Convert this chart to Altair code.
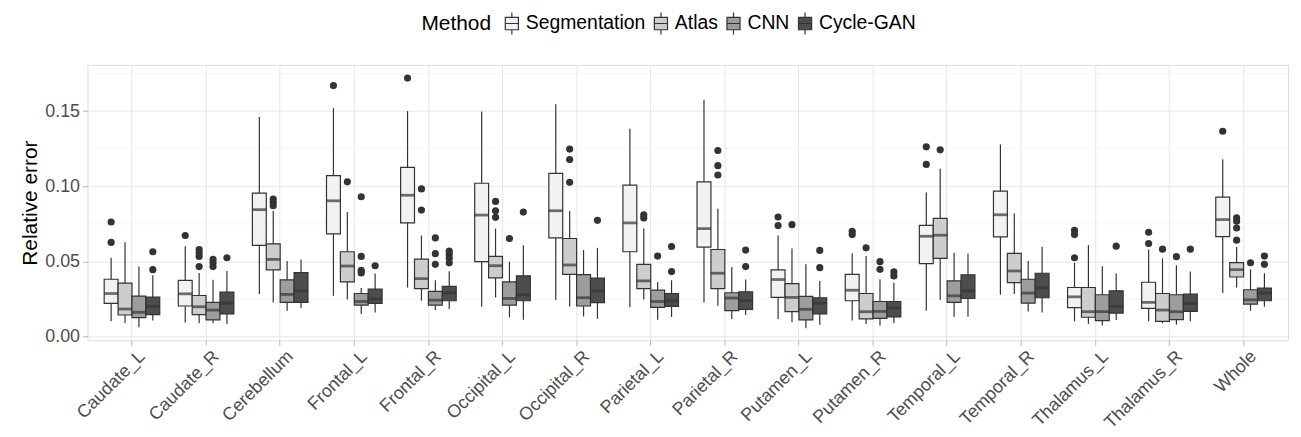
import altair as alt
import pandas as pd

REGIONS = ["Caudate_L", "Caudate_R", "Cerebellum", "Frontal_L", "Frontal_R",
           "Occipital_L", "Occipital_R", "Parietal_L", "Parietal_R", "Putamen_L",
           "Putamen_R", "Temporal_L", "Temporal_R", "Thalamus_L", "Thalamus_R", "Whole"]
METHODS = ["Segmentation", "Atlas", "CNN", "Cycle-GAN"]
FILLS = ["#F2F2F2", "#CDCDCD", "#9D9D9D", "#4D4D4D"]

# (lower whisker, q1, median, q3, upper whisker) for each region, in REGIONS order
SEGMENTATION = [
    (0.0101, 0.0220, 0.0286, 0.0381, 0.0524),
    (0.0093, 0.0203, 0.0284, 0.0374, 0.0601),
    (0.0282, 0.0606, 0.0844, 0.0954, 0.1460),
    (0.0271, 0.0683, 0.0903, 0.1070, 0.1520),
    (0.0326, 0.0756, 0.0940, 0.1126, 0.1500),
    (0.0198, 0.0498, 0.0808, 0.1020, 0.1498),
    (0.0242, 0.0656, 0.0837, 0.1086, 0.1546),
    (0.0194, 0.0564, 0.0756, 0.1007, 0.1383),
    (0.0227, 0.0595, 0.0718, 0.1029, 0.1575),
    (0.0117, 0.0260, 0.0379, 0.0443, 0.0672),
    (0.0106, 0.0238, 0.0308, 0.0414, 0.0553),
    (0.0172, 0.0485, 0.0667, 0.0740, 0.0958),
    (0.0278, 0.0663, 0.0810, 0.0967, 0.1278),
    (0.0101, 0.0192, 0.0264, 0.0326, 0.0491),
    (0.0101, 0.0187, 0.0227, 0.0361, 0.0579),
    (0.0289, 0.0665, 0.0778, 0.0927, 0.1180),
]
ATLAS = [
    (0.0090, 0.0143, 0.0183, 0.0355, 0.0628),
    (0.0088, 0.0145, 0.0198, 0.0273, 0.0423),
    (0.0227, 0.0443, 0.0513, 0.0617, 0.0837),
    (0.0247, 0.0363, 0.0469, 0.0564, 0.0828),
    (0.0238, 0.0319, 0.0385, 0.0515, 0.0672),
    (0.0260, 0.0390, 0.0471, 0.0533, 0.0718),
    (0.0200, 0.0414, 0.0476, 0.0652, 0.0835),
    (0.0247, 0.0319, 0.0370, 0.0480, 0.0718),
    (0.0205, 0.0319, 0.0421, 0.0579, 0.0850),
    (0.0095, 0.0165, 0.0260, 0.0352, 0.0586),
    (0.0084, 0.0117, 0.0165, 0.0286, 0.0535),
    (0.0244, 0.0520, 0.0674, 0.0786, 0.1117),
    (0.0282, 0.0359, 0.0436, 0.0553, 0.0819),
    (0.0084, 0.0128, 0.0165, 0.0326, 0.0608),
    (0.0088, 0.0101, 0.0176, 0.0286, 0.0520),
    (0.0326, 0.0396, 0.0445, 0.0491, 0.0595),
]
CNN = [
    (0.0062, 0.0126, 0.0161, 0.0269, 0.0465),
    (0.0088, 0.0110, 0.0176, 0.0227, 0.0377),
    (0.0172, 0.0227, 0.0280, 0.0377, 0.0502),
    (0.0150, 0.0209, 0.0233, 0.0286, 0.0322),
    (0.0176, 0.0209, 0.0242, 0.0300, 0.0374),
    (0.0128, 0.0209, 0.0253, 0.0363, 0.0498),
    (0.0134, 0.0203, 0.0258, 0.0412, 0.0575),
    (0.0112, 0.0194, 0.0233, 0.0308, 0.0363),
    (0.0117, 0.0172, 0.0256, 0.0291, 0.0463),
    (0.0055, 0.0110, 0.0181, 0.0267, 0.0480),
    (0.0073, 0.0121, 0.0167, 0.0233, 0.0381),
    (0.0132, 0.0227, 0.0271, 0.0370, 0.0557),
    (0.0167, 0.0222, 0.0289, 0.0381, 0.0502),
    (0.0073, 0.0106, 0.0165, 0.0278, 0.0467),
    (0.0079, 0.0112, 0.0165, 0.0278, 0.0474),
    (0.0172, 0.0216, 0.0244, 0.0311, 0.0447),
]
CYCLE_GAN = [
    (0.0106, 0.0145, 0.0200, 0.0262, 0.0407),
    (0.0084, 0.0150, 0.0222, 0.0295, 0.0436),
    (0.0190, 0.0227, 0.0304, 0.0425, 0.0513),
    (0.0159, 0.0220, 0.0249, 0.0315, 0.0419),
    (0.0183, 0.0238, 0.0291, 0.0333, 0.0434),
    (0.0112, 0.0238, 0.0278, 0.0403, 0.0608),
    (0.0117, 0.0225, 0.0304, 0.0388, 0.0590),
    (0.0130, 0.0200, 0.0238, 0.0286, 0.0374),
    (0.0143, 0.0181, 0.0238, 0.0297, 0.0379),
    (0.0079, 0.0150, 0.0222, 0.0258, 0.0370),
    (0.0088, 0.0130, 0.0189, 0.0233, 0.0357),
    (0.0132, 0.0253, 0.0304, 0.0410, 0.0553),
    (0.0159, 0.0258, 0.0324, 0.0421, 0.0597),
    (0.0110, 0.0156, 0.0200, 0.0304, 0.0419),
    (0.0101, 0.0167, 0.0220, 0.0282, 0.0432),
    (0.0198, 0.0238, 0.0289, 0.0322, 0.0421),
]

# outlying points
SEGMENTATION_OUT = {
    "Caudate_L": [0.0762, 0.0626], "Caudate_R": [0.0672], "Frontal_L": [0.1670],
    "Frontal_R": [0.1720], "Putamen_L": [0.0795, 0.0738], "Putamen_R": [0.0700, 0.0678],
    "Temporal_L": [0.1262, 0.1145], "Thalamus_L": [0.0707, 0.0678, 0.0524],
    "Thalamus_R": [0.0694, 0.0619], "Whole": [0.1366],
}
ATLAS_OUT = {
    "Caudate_R": [0.0579, 0.0557, 0.0533, 0.0465], "Cerebellum": [0.0914, 0.0892, 0.0870],
    "Frontal_L": [0.1029], "Frontal_R": [0.0982, 0.0841],
    "Occipital_L": [0.0899, 0.0837, 0.0793], "Occipital_R": [0.1247, 0.1178, 0.1026],
    "Parietal_L": [0.0810, 0.0789], "Parietal_R": [0.1238, 0.1137, 0.1075],
    "Putamen_L": [0.0744], "Putamen_R": [0.0590], "Temporal_L": [0.1242],
    "Thalamus_R": [0.0581], "Whole": [0.0789, 0.0767, 0.0722, 0.0641],
}
CNN_OUT = {
    "Caudate_R": [0.0513, 0.0490, 0.0465], "Frontal_L": [0.0930, 0.0533, 0.0441, 0.0423],
    "Frontal_R": [0.0656, 0.0551, 0.0480], "Occipital_L": [0.0652], "Parietal_L": [0.0535],
    "Putamen_R": [0.0498, 0.0447], "Thalamus_R": [0.0531], "Whole": [0.0491],
}
CYCLE_GAN_OUT = {
    "Caudate_L": [0.0564, 0.0445], "Caudate_R": [0.0524], "Frontal_L": [0.0471],
    "Frontal_R": [0.0568, 0.0546, 0.0520, 0.0490], "Occipital_L": [0.0828],
    "Occipital_R": [0.0773], "Parietal_L": [0.0599, 0.0432], "Parietal_R": [0.0575, 0.0465],
    "Putamen_L": [0.0573, 0.0458], "Putamen_R": [0.0430, 0.0403], "Thalamus_L": [0.0601],
    "Thalamus_R": [0.0581], "Whole": [0.0535, 0.0480],
}

Y_TICKS = [0.0, 0.05, 0.10, 0.15]
MINOR_GRID = [0.025, 0.075, 0.125, 0.175]

stats = {"Segmentation": SEGMENTATION, "Atlas": ATLAS, "CNN": CNN, "Cycle-GAN": CYCLE_GAN}
outs = {"Segmentation": SEGMENTATION_OUT, "Atlas": ATLAS_OUT, "CNN": CNN_OUT, "Cycle-GAN": CYCLE_GAN_OUT}

box_rows = []
for m in METHODS:
    for r, (lo, q1, med, q3, hi) in zip(REGIONS, stats[m]):
        box_rows.append({"Region": r, "Method": m, "lo": lo, "q1": q1, "med": med, "q3": q3, "hi": hi})
boxes = pd.DataFrame(box_rows)

out_rows = []
for m in METHODS:
    for r, vals in outs[m].items():
        for v in vals:
            out_rows.append({"Region": r, "Method": m, "value": v})
outliers = pd.DataFrame(out_rows)

grid_df = pd.DataFrame({"v": MINOR_GRID})

DARK = "#333333"
FONT = "Liberation Sans"

yscale = alt.Scale(domain=[-0.0025, 0.1807], nice=False, zero=False)
x_enc = alt.X("Region:N", sort=REGIONS,
              scale=alt.Scale(paddingInner=0.25, paddingOuter=0.225),
              axis=alt.Axis(title=None, labelAngle=-45, labelFontSize=18, labelColor="#4D4D4D",
                            tickColor="#B3B3B3", tickSize=5, grid=True, gridColor="#E6E6E6",
                            domain=False, bandPosition=0.5, labelPadding=2, labelOffset=4,
                            labelFont=FONT, labelOverlap=False, labelBound=False))
xo_enc = alt.XOffset("Method:N", sort=METHODS, scale=alt.Scale(domain=METHODS, paddingInner=0, paddingOuter=0))

minor = alt.Chart(grid_df).mark_rule(color="#F2F2F2", strokeWidth=0.8).encode(
    y=alt.Y("v:Q", scale=yscale,
            axis=alt.Axis(values=Y_TICKS, format=".2f", title="Relative error", titleFontSize=21,
                          titleFontWeight="normal", titleColor="black", titleFont=FONT,
                          labelFontSize=18, labelColor="#4D4D4D", labelFont=FONT,
                          tickColor="#B3B3B3", tickSize=5, gridColor="#E6E6E6",
                          domain=False, labelPadding=3, titlePadding=4))
)

base = alt.Chart(boxes)
whisk = base.mark_rule(color=DARK, strokeWidth=1.2).encode(
    x=x_enc, xOffset=xo_enc, y=alt.Y("lo:Q", scale=yscale), y2="hi:Q")

BOX_PATH = "M-0.6,-0.57H0.6V0.57H-0.6Z M-0.6,0H0.6 M0,-0.57V-1 M0,0.57V1"

box = base.mark_bar(stroke=DARK, strokeWidth=1.2).encode(
    x=x_enc, xOffset=xo_enc,
    y=alt.Y("q1:Q", scale=yscale), y2="q3:Q",
    fill=alt.Fill("Method:N", sort=METHODS,
                  scale=alt.Scale(domain=METHODS, range=FILLS),
                  legend=alt.Legend(title="Method", orient="none", legendX=336, legendY=-54,
                                    direction="horizontal", titleOrient="left",
                                    titleFontSize=21, titleFontWeight="normal", titleColor="black",
                                    titleFont=FONT, labelFont=FONT, labelFontSize=19.5,
                                    labelColor="black", symbolType=BOX_PATH, symbolSize=484,
                                    symbolStrokeColor=DARK, symbolStrokeWidth=1.2,
                                    labelOffset=2, columnPadding=3, titlePadding=8,
                                    titleBaseline="middle")))

med = base.mark_tick(color=DARK, thickness=2.8, size=14, orient="horizontal").encode(
    x=x_enc, xOffset=xo_enc, y=alt.Y("med:Q", scale=yscale))

pts = alt.Chart(outliers).mark_circle(color=DARK, size=52, opacity=1).encode(
    x=x_enc, xOffset=xo_enc, y=alt.Y("value:Q", scale=yscale))

chart = alt.layer(minor, whisk, box, med, pts).properties(
    width=1208, height=277,
    autosize=alt.AutoSizeParams(type="none"),
    padding={"left": 80, "top": 56, "right": 5, "bottom": 92},
).configure_view(stroke="#BDBDBD", strokeWidth=1).configure(font=FONT)

chart.save("out.html", embed_options={"renderer": "svg", "actions": False})
